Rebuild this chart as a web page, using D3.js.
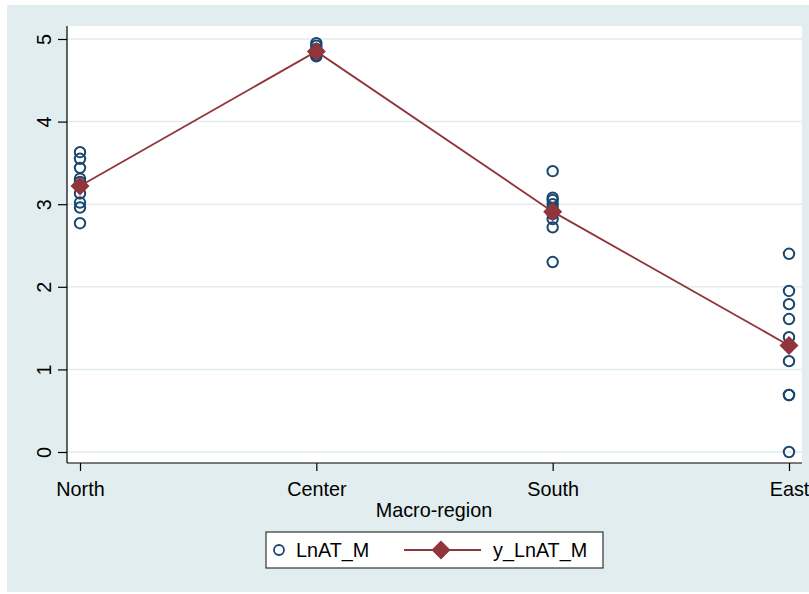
<!DOCTYPE html>
<html>
<head>
  <meta charset="utf-8">
  <script src="https://cdn.jsdelivr.net/npm/d3@7"></script>
  <style>
    body { margin: 0; background: #fff; }
    text { font-family: "Liberation Sans", Arial, sans-serif; fill: #000; }
  </style>
</head>
<body>
<script>
// regions on the x axis
var regions = ["North", "Center", "South", "East"];
// individual LnAT_M observations per region
var northVals  = [3.63, 3.55, 3.44, 3.31, 3.27, 3.22, 3.13, 3.02, 2.96, 2.77];
var centerVals = [4.95, 4.92, 4.88, 4.85, 4.82, 4.80, 4.79];
var southVals  = [3.40, 3.08, 3.05, 3.00, 2.95, 2.88, 2.82, 2.72, 2.30];
var eastVals   = [2.40, 1.95, 1.79, 1.61, 1.39, 1.10, 0.69, 0.69, 0.00];
// fitted means y_LnAT_M
var meanVals = [3.22, 4.85, 2.91, 1.29];
var yTicks = [0, 1, 2, 3, 4, 5];

var W = 809, H = 594;
var blue = "#1a476f", maroon = "#90353b";
var fs = "19.8px";

var svg = d3.select("body").append("svg")
  .attr("width", W).attr("height", H);

// graph region
svg.append("rect").attr("x", 7).attr("y", 5)
  .attr("width", W - 7).attr("height", H - 7)
  .attr("fill", "#e1edee");

var pL = 67, pR = 802, pT = 26, pB = 463;
svg.append("rect").attr("x", pL).attr("y", pT)
  .attr("width", pR - pL).attr("height", pB - pT)
  .attr("fill", "#fff");

var x = d3.scalePoint().domain(regions).range([80, 789]);
var y = d3.scaleLinear().domain([0, 5]).range([452, 39]);

// gridlines
svg.append("g").selectAll("line").data(yTicks).join("line")
  .attr("x1", pL).attr("x2", pR)
  .attr("y1", d => y(d)).attr("y2", d => y(d))
  .attr("stroke", "#e1edee").attr("stroke-width", 1.5);

// y axis
var yAxis = svg.append("g").attr("transform", "translate(" + pL + ",0)")
  .call(d3.axisLeft(y).tickValues(yTicks).tickFormat(d3.format("d")).tickSize(9).tickPadding(0));
yAxis.select(".domain").attr("d", "M0," + pT + "V" + pB).attr("stroke", "#000").attr("stroke-width", 1.2);
yAxis.selectAll(".tick line").attr("stroke", "#000").attr("stroke-width", 1.2);
yAxis.selectAll(".tick text")
  .attr("x", null)
  .attr("text-anchor", "middle")
  .attr("transform", "translate(-23,0) rotate(-90)")
  .attr("dy", "0.35em")
  .attr("fill", "#000")
  .style("font-size", fs);

// x axis
var xAxis = svg.append("g").attr("transform", "translate(0," + pB + ")")
  .call(d3.axisBottom(x).tickSize(8).tickPadding(11));
xAxis.select(".domain").attr("d", "M" + pL + ",0H" + pR).attr("stroke", "#000").attr("stroke-width", 1.2);
xAxis.selectAll(".tick line").attr("stroke", "#000").attr("stroke-width", 1.2);
xAxis.selectAll(".tick text").attr("fill", "#000").style("font-size", fs);

svg.append("text").attr("x", 434).attr("y", 517)
  .attr("text-anchor", "middle").style("font-size", fs)
  .text("Macro-region");

// scatter points
var pts = [];
[northVals, centerVals, southVals, eastVals].forEach(function (arr, i) {
  arr.forEach(function (v) { pts.push({ r: regions[i], v: v }); });
});
svg.append("g").selectAll("circle").data(pts).join("circle")
  .attr("cx", d => x(d.r)).attr("cy", d => y(d.v)).attr("r", 5.2)
  .attr("fill", "none").attr("stroke", blue).attr("stroke-width", 2);

// fitted line with diamonds
var means = regions.map((r, i) => ({ r: r, v: meanVals[i] }));
svg.append("path").datum(means)
  .attr("d", d3.line().x(d => x(d.r)).y(d => y(d.v)))
  .attr("fill", "none").attr("stroke", maroon).attr("stroke-width", 1.8);
var diamond = d3.symbol().type(d3.symbolDiamond2).size(230);
svg.append("g").selectAll("path").data(means).join("path")
  .attr("d", diamond)
  .attr("transform", d => "translate(" + x(d.r) + "," + y(d.v) + ")")
  .attr("fill", maroon);

// legend
var lg = svg.append("g");
lg.append("rect").attr("x", 266).attr("y", 532).attr("width", 337).attr("height", 36)
  .attr("fill", "#fff").attr("stroke", "#333").attr("stroke-width", 1.2);
lg.append("circle").attr("cx", 279).attr("cy", 550).attr("r", 5)
  .attr("fill", "none").attr("stroke", blue).attr("stroke-width", 1.8);
lg.append("text").attr("x", 296).attr("y", 557).style("font-size", fs).text("LnAT_M");
lg.append("line").attr("x1", 404).attr("x2", 481).attr("y1", 550).attr("y2", 550)
  .attr("stroke", maroon).attr("stroke-width", 1.8);
lg.append("path").attr("d", diamond)
  .attr("transform", "translate(441,550)").attr("fill", maroon);
lg.append("text").attr("x", 493).attr("y", 557).style("font-size", fs).text("y_LnAT_M");
</script>
</body>
</html>
